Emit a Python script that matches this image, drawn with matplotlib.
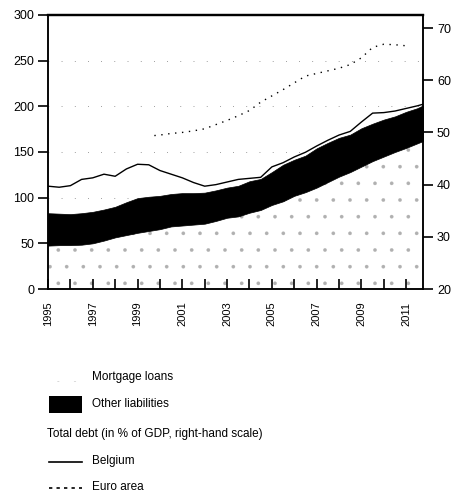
import matplotlib
matplotlib.use("Agg")
from matplotlib import pyplot as plt
from matplotlib.patches import Rectangle
from matplotlib.lines import Line2D

plt.rcParams['font.family'] = ['Liberation Sans Narrow', 'Liberation Sans', 'DejaVu Sans']
plt.rcParams['hatch.linewidth'] = 0.2

# half-yearly readings
years = [1995.0, 1995.5, 1996.0, 1996.5, 1997.0, 1997.5, 1998.0, 1998.5,
         1999.0, 1999.5, 2000.0, 2000.5, 2001.0, 2001.5, 2002.0, 2002.5,
         2003.0, 2003.5, 2004.0, 2004.5, 2005.0, 2005.5, 2006.0, 2006.5,
         2007.0, 2007.5, 2008.0, 2008.5, 2009.0, 2009.5, 2010.0, 2010.5,
         2011.0, 2011.5, 2011.75]

# left-hand scale (stacked)
mortgage = [47.5, 48, 48, 48.5, 50, 53, 56.5, 59,
            61.5, 63.5, 65.5, 68.5, 69.5, 70.5, 71.5, 74.5,
            78, 79.5, 83.5, 86.5, 92, 96, 102, 106,
            111, 117, 123, 128, 134, 140, 145, 150,
            154.5, 159.5, 162]
total_liab = [83, 82.5, 82, 83, 84.5, 87, 90, 95,
              99.5, 101, 102, 104, 105, 105, 105.5, 108,
              111, 113, 118, 120.5, 128, 136, 141.5, 146,
              154, 160, 165.5, 169, 176, 181, 185.5, 189,
              194, 198, 201]

# right-hand scale
belgium = [39.7, 39.5, 39.8, 41, 41.3, 42, 41.6, 43,
           43.9, 43.8, 42.7, 42, 41.3, 40.4, 39.7, 40,
           40.5, 41, 41.2, 41.4, 43.4, 44.2, 45.3, 46.2,
           47.4, 48.5, 49.5, 50.2, 52, 53.7, 53.8, 54.1,
           54.6, 55.1, 55.4]

euro_years = [1999.75, 2000.0, 2000.5, 2001.0, 2001.5, 2002.0, 2002.5,
              2003.0, 2003.5, 2004.0, 2004.5, 2005.0, 2005.5, 2006.0,
              2006.5, 2007.0, 2007.5, 2008.0, 2008.5, 2009.0, 2009.5,
              2010.0, 2010.5, 2011.0]
euro_area = [49.4, 49.5, 49.8, 50, 50.3, 50.7, 51.5,
             52.3, 53.2, 54.2, 55.8, 57, 58.2, 59.5,
             60.8, 61.3, 61.8, 62.3, 63, 64.3, 66.3,
             66.9, 66.8, 66.6]

left_ticks = [0, 50, 100, 150, 200, 250, 300]
right_ticks = [20, 30, 40, 50, 60, 70]
tick_years = list(range(1995, 2012))

W, H = 457, 499
fig = plt.figure(figsize=(W / 100, H / 100), dpi=100)
ax = fig.add_axes([48 / W, 1 - 289 / H, 375 / W, 274 / H])

# faint dotted grid, as in the scan
for v in left_ticks[1:-1]:
    ax.axhline(v, color='#444444', lw=0.5, ls=(0, (1, 18)), zorder=0)

ax.fill_between(years, 0, mortgage, facecolor='white', edgecolor='#b0b0b0',
                hatch='.', linewidth=0, zorder=1)
ax.fill_between(years, mortgage, total_liab, facecolor='black',
                edgecolor='black', linewidth=0.5, zorder=2)

ax.set_xlim(1995, 2011.75)
ax.set_ylim(0, 300)
ax.set_yticks(left_ticks)
ax.set_xticks(tick_years)
ax.set_xticklabels([str(y) if y % 2 == 1 else '' for y in tick_years],
                   rotation=90, fontsize=8)
ax.tick_params(axis='x', direction='in', length=7, width=1.2, pad=9)
ax.tick_params(axis='y', direction='out', length=7, width=1.2, pad=3, labelsize=9)
for s in ax.spines.values():
    s.set_linewidth(1.1)
ax.spines['top'].set_linewidth(1.6)

ax2 = ax.twinx()
ax2.plot(years, belgium, color='black', lw=1.0, zorder=3)
ax2.plot(euro_years, euro_area, color='black', lw=1.0, ls=(0, (1, 4)), zorder=3)
ax2.set_ylim(20, 72.5)
ax2.set_yticks(right_ticks)
ax2.tick_params(axis='y', direction='out', length=7, width=1.2, pad=3, labelsize=9)
for s in ax2.spines.values():
    s.set_linewidth(1.1)
ax2.spines['top'].set_linewidth(1.6)

# legend below the chart, built by hand
fs = 8.5
sw = fig.add_axes([49 / W, 1 - 382 / H, 33 / W, 12 / H])
sw.add_patch(Rectangle((0, 0), 1, 1, facecolor='white', edgecolor='#b0b0b0',
                       hatch='.', linewidth=0))
sw.set_axis_off()
fig.text(92 / W, 1 - 377 / H, 'Mortgage loans', fontsize=fs, va='center')

fig.patches.append(Rectangle((49 / W, 1 - 413 / H), 33 / W, 17 / H,
                             facecolor='black', transform=fig.transFigure))
fig.text(92 / W, 1 - 404 / H, 'Other liabilities', fontsize=fs, va='center')

fig.text(47 / W, 1 - 434 / H, 'Total debt (in % of GDP, right-hand scale)',
         fontsize=fs, va='center')

fig.lines.append(Line2D([49 / W, 82 / W], [1 - 462 / H, 1 - 462 / H],
                        color='black', lw=1.2, transform=fig.transFigure))
fig.text(92 / W, 1 - 461 / H, 'Belgium', fontsize=fs, va='center')

fig.lines.append(Line2D([49 / W, 82 / W], [1 - 488 / H, 1 - 488 / H],
                        color='black', lw=1.2, ls=(0, (2, 2.5)),
                        transform=fig.transFigure))
fig.text(92 / W, 1 - 487 / H, 'Euro area', fontsize=fs, va='center')

fig.savefig('out.png', dpi=100)
